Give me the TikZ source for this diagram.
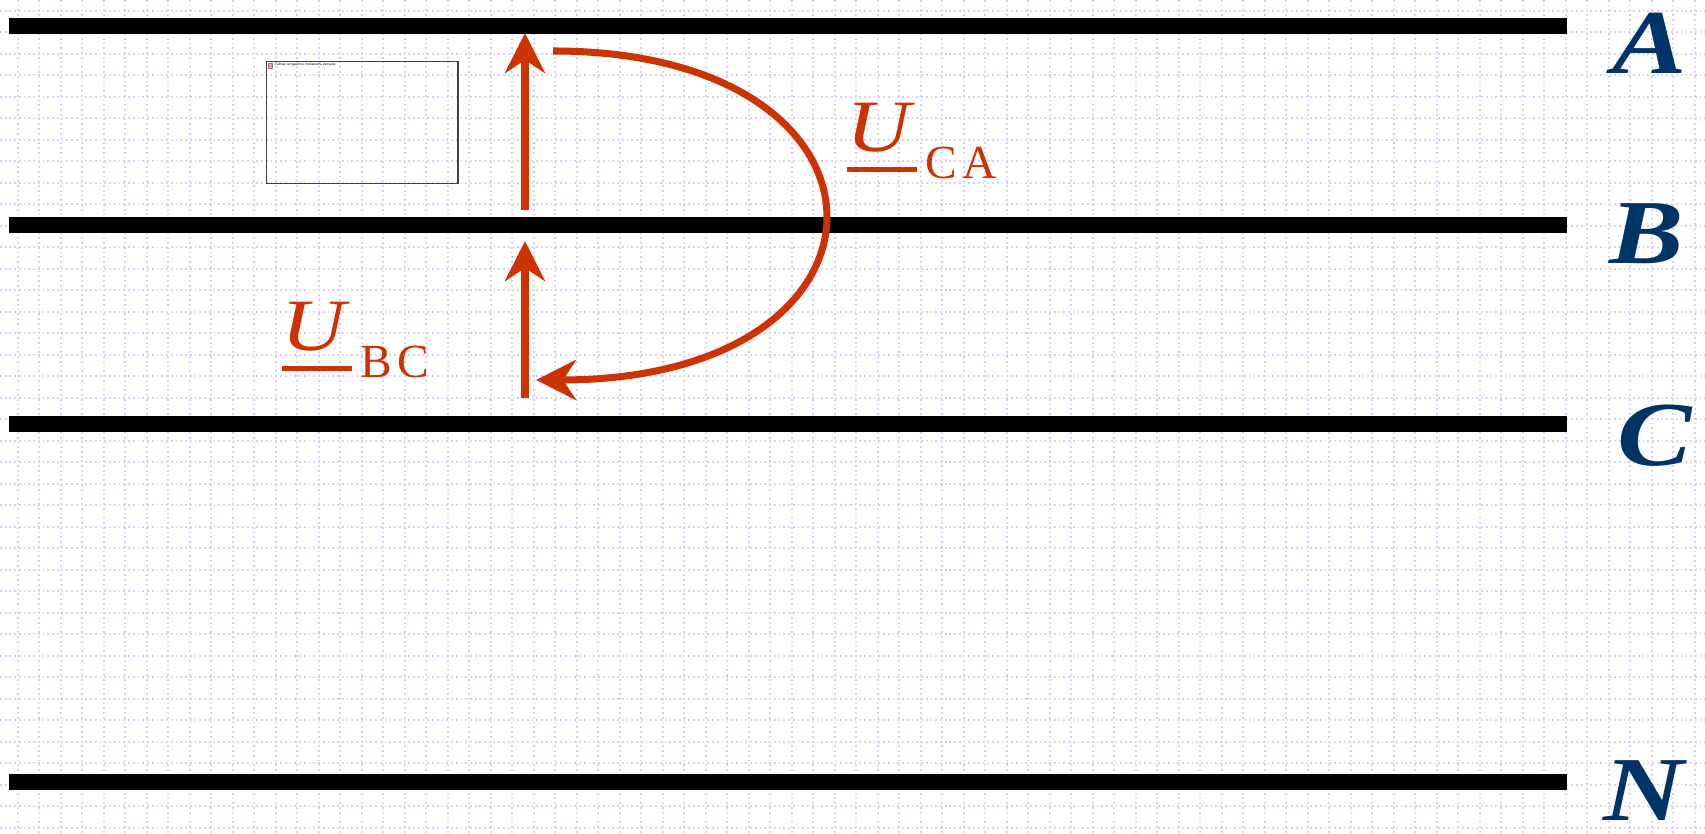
\documentclass[tikz,border=0pt]{standalone}
\usepackage{fontspec}
\setmainfont{Liberation Serif}
\newfontfamily\boxfont{Liberation Sans}
\usepackage{graphicx}
\usetikzlibrary{arrows.meta}
\definecolor{phasered}{RGB}{204,51,0}
\definecolor{busblue}{RGB}{0,51,102}
\definecolor{gridlilac}{RGB}{222,206,246}
\newcommand{\phasorlbl}[2]{%
  \vtop{\hbox{\fontsize{21}{21}\selectfont\itshape\scalebox{1.2}[1]{#1}}\kern4.2pt\hrule height 1.2pt width 20pt}%
  \kern2.5pt\raisebox{-7.4pt}{\fontsize{13.5}{13.5}\selectfont #2}}
\tikzset{
  bus/.style={line width=4.5pt, black},
  vec/.style={line width=2pt, phasered, -{Stealth[length=4mm,width=4mm,inset=1.3mm]}},
  buslabel/.style={anchor=base, inner sep=0pt, text=busblue, font=\fontsize{26}{26}\selectfont\bfseries\itshape},
  veclabel/.style={anchor=base west, inner sep=0pt, text=phasered},
  gridline/.style={gridlilac, line width=0.5pt, dash pattern=on 0.5pt off 0.85pt},
}
\begin{document}
\begin{tikzpicture}[x=0.01cm, y=-0.01cm]
  \useasboundingbox (0,0) rectangle (1705,834);
  % background grid
  \foreach \gx in {0,...,78} \draw[gridline] (17.7+21.5*\gx,0) -- (17.7+21.5*\gx,834);
  \foreach \gy in {0,...,38} \draw[gridline] (0,10.7+21.5*\gy) -- (1705,10.7+21.5*\gy);
  % bus bars
  \foreach \yy in {26,225,424,782} \draw[bus] (9,\yy) -- (1567,\yy);
  \node[buslabel] (lblA) at (1650,74) {\scalebox{1.22}[1]{A}};
  \node[buslabel] (lblB) at (1647,264) {\scalebox{1.22}[1]{B}};
  \node[buslabel] (lblC) at (1655,466) {\scalebox{1.22}[1]{C}};
  \node[buslabel] (lblN) at (1644,821) {\scalebox{1.22}[1]{N}};
  % missing picture placeholder
  \node[draw=black!75, line width=0.4pt, minimum width=1.91cm, minimum height=1.22cm,
        inner sep=0pt, anchor=north west] (pic) at (266,61) {};
  \draw[black!50, line width=0.2pt, fill=red!40] (268,63) rectangle (272,68);
  \node[anchor=west, inner sep=0pt, font=\boxfont\fontsize{0.95}{1.2}\selectfont] (pictxt) at (274,65)
    {Сейчас не удаётся отобразить рисунок.};
  % voltage vectors
  \coordinate (bc0) at (525,398);
  \coordinate (bc1) at (525,241);
  \coordinate (ca0) at (525,210);
  \coordinate (ca1) at (525,33);
  \coordinate (ab0) at (553,51);
  \coordinate (ab1) at (536,380);
  \draw[vec] (bc0) -- (bc1);
  \draw[vec] (ca0) -- (ca1);
  \draw[vec] (ab0) .. controls (917,51) and (917,380) .. (ab1);
  \node[veclabel] (ubc) at (281,351) {\phasorlbl{U}{B\kern1.5pt C}};
  \node[veclabel] (uca) at (846,152) {\phasorlbl{U}{C\kern1.5pt A}};
\end{tikzpicture}
\end{document}
